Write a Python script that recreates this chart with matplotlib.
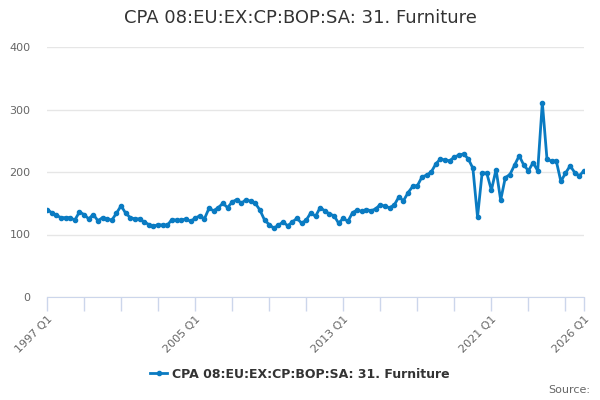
import numpy as np
import matplotlib.pyplot as plt
from matplotlib.lines import Line2D

# quarterly series, 1997 Q1 .. 2026 Q1
start_year = 1997
values = [140, 135, 131, 127, 127, 127, 123, 136, 132, 125, 132, 122, 127, 125, 123, 134, 146, 134, 127, 125, 125,
          120, 116, 113, 116, 115, 115, 124, 123, 123, 125, 121, 126, 130, 125, 142, 138, 143, 150, 143,
          152, 156, 150, 156, 153, 150, 139, 123, 116, 110, 115, 120, 114, 120, 126, 118, 123, 135, 129, 143,
          138, 133, 130, 118, 126, 121, 135, 139, 137, 140, 138, 141, 148, 145, 143, 147, 160, 154, 167, 177, 178, 192, 195,
          200, 213, 221, 219, 218, 224, 227, 229, 221, 206, 128, 199, 198, 171, 204, 155, 191, 196, 211, 226, 211,
          202, 215, 202, 311, 221, 217, 218, 185, 198, 210, 199, 194, 202]
quarters = [f"{start_year + i // 4} Q{i % 4 + 1}" for i in range(len(values))]
labelled = ["1997 Q1", "2005 Q1", "2013 Q1", "2021 Q1", "2026 Q1"]
series_name = "CPA 08:EU:EX:CP:BOP:SA: 31. Furniture"
y_ticks = [0, 100, 200, 300, 400]

color = '#0a7bc2'
x = np.arange(len(values))

fig = plt.figure(figsize=(6, 4), dpi=100)
ax = fig.add_axes([47 / 600, 1 - 297 / 400, 537 / 600, 250 / 400])

ax.plot(x, values, color=color, lw=2, marker='o', ms=3, zorder=3)

ax.set_xlim(0, len(values) - 1)
ax.set_ylim(0, 400)
ax.set_yticks(y_ticks)
ax.set_yticklabels([str(v) for v in y_ticks], color='#666666', fontsize=8)
ax.tick_params(axis='y', length=0, pad=12)
ax.grid(axis='y', color='#e6e6e6', lw=1)
ax.set_axisbelow(True)

# ticks every two years, labels only at selected quarters
tick_pos = list(range(0, len(values), 8)) + [len(values) - 1]
ax.set_xticks(tick_pos)
ax.set_xticklabels([quarters[p] if quarters[p] in labelled else '' for p in tick_pos],
                   rotation=45, ha='right', rotation_mode='anchor', color='#666666', fontsize=8)
ax.tick_params(axis='x', length=10, color='#ccd6eb', width=1, pad=2)

for s in ['top', 'right', 'left']:
    ax.spines[s].set_visible(False)
ax.spines['bottom'].set_color('#ccd6eb')

fig.text(0.5, 1 - 18 / 400, series_name, ha='center', va='center', fontsize=13, color='#333333')

handle = Line2D([0], [0], color=color, lw=2, marker='o', ms=3)
fig.legend([handle], [series_name], loc='center', bbox_to_anchor=(0.5, 1 - 374 / 400),
           frameon=False, prop={'weight': 'bold', 'size': 9}, labelcolor='#333333',
           handlelength=1.4, handletextpad=0.4)

fig.text(590 / 600, 1 - 390 / 400, "Source:", ha='right', va='center', fontsize=8, color='#666666')

fig.savefig('out.png', dpi=100)
